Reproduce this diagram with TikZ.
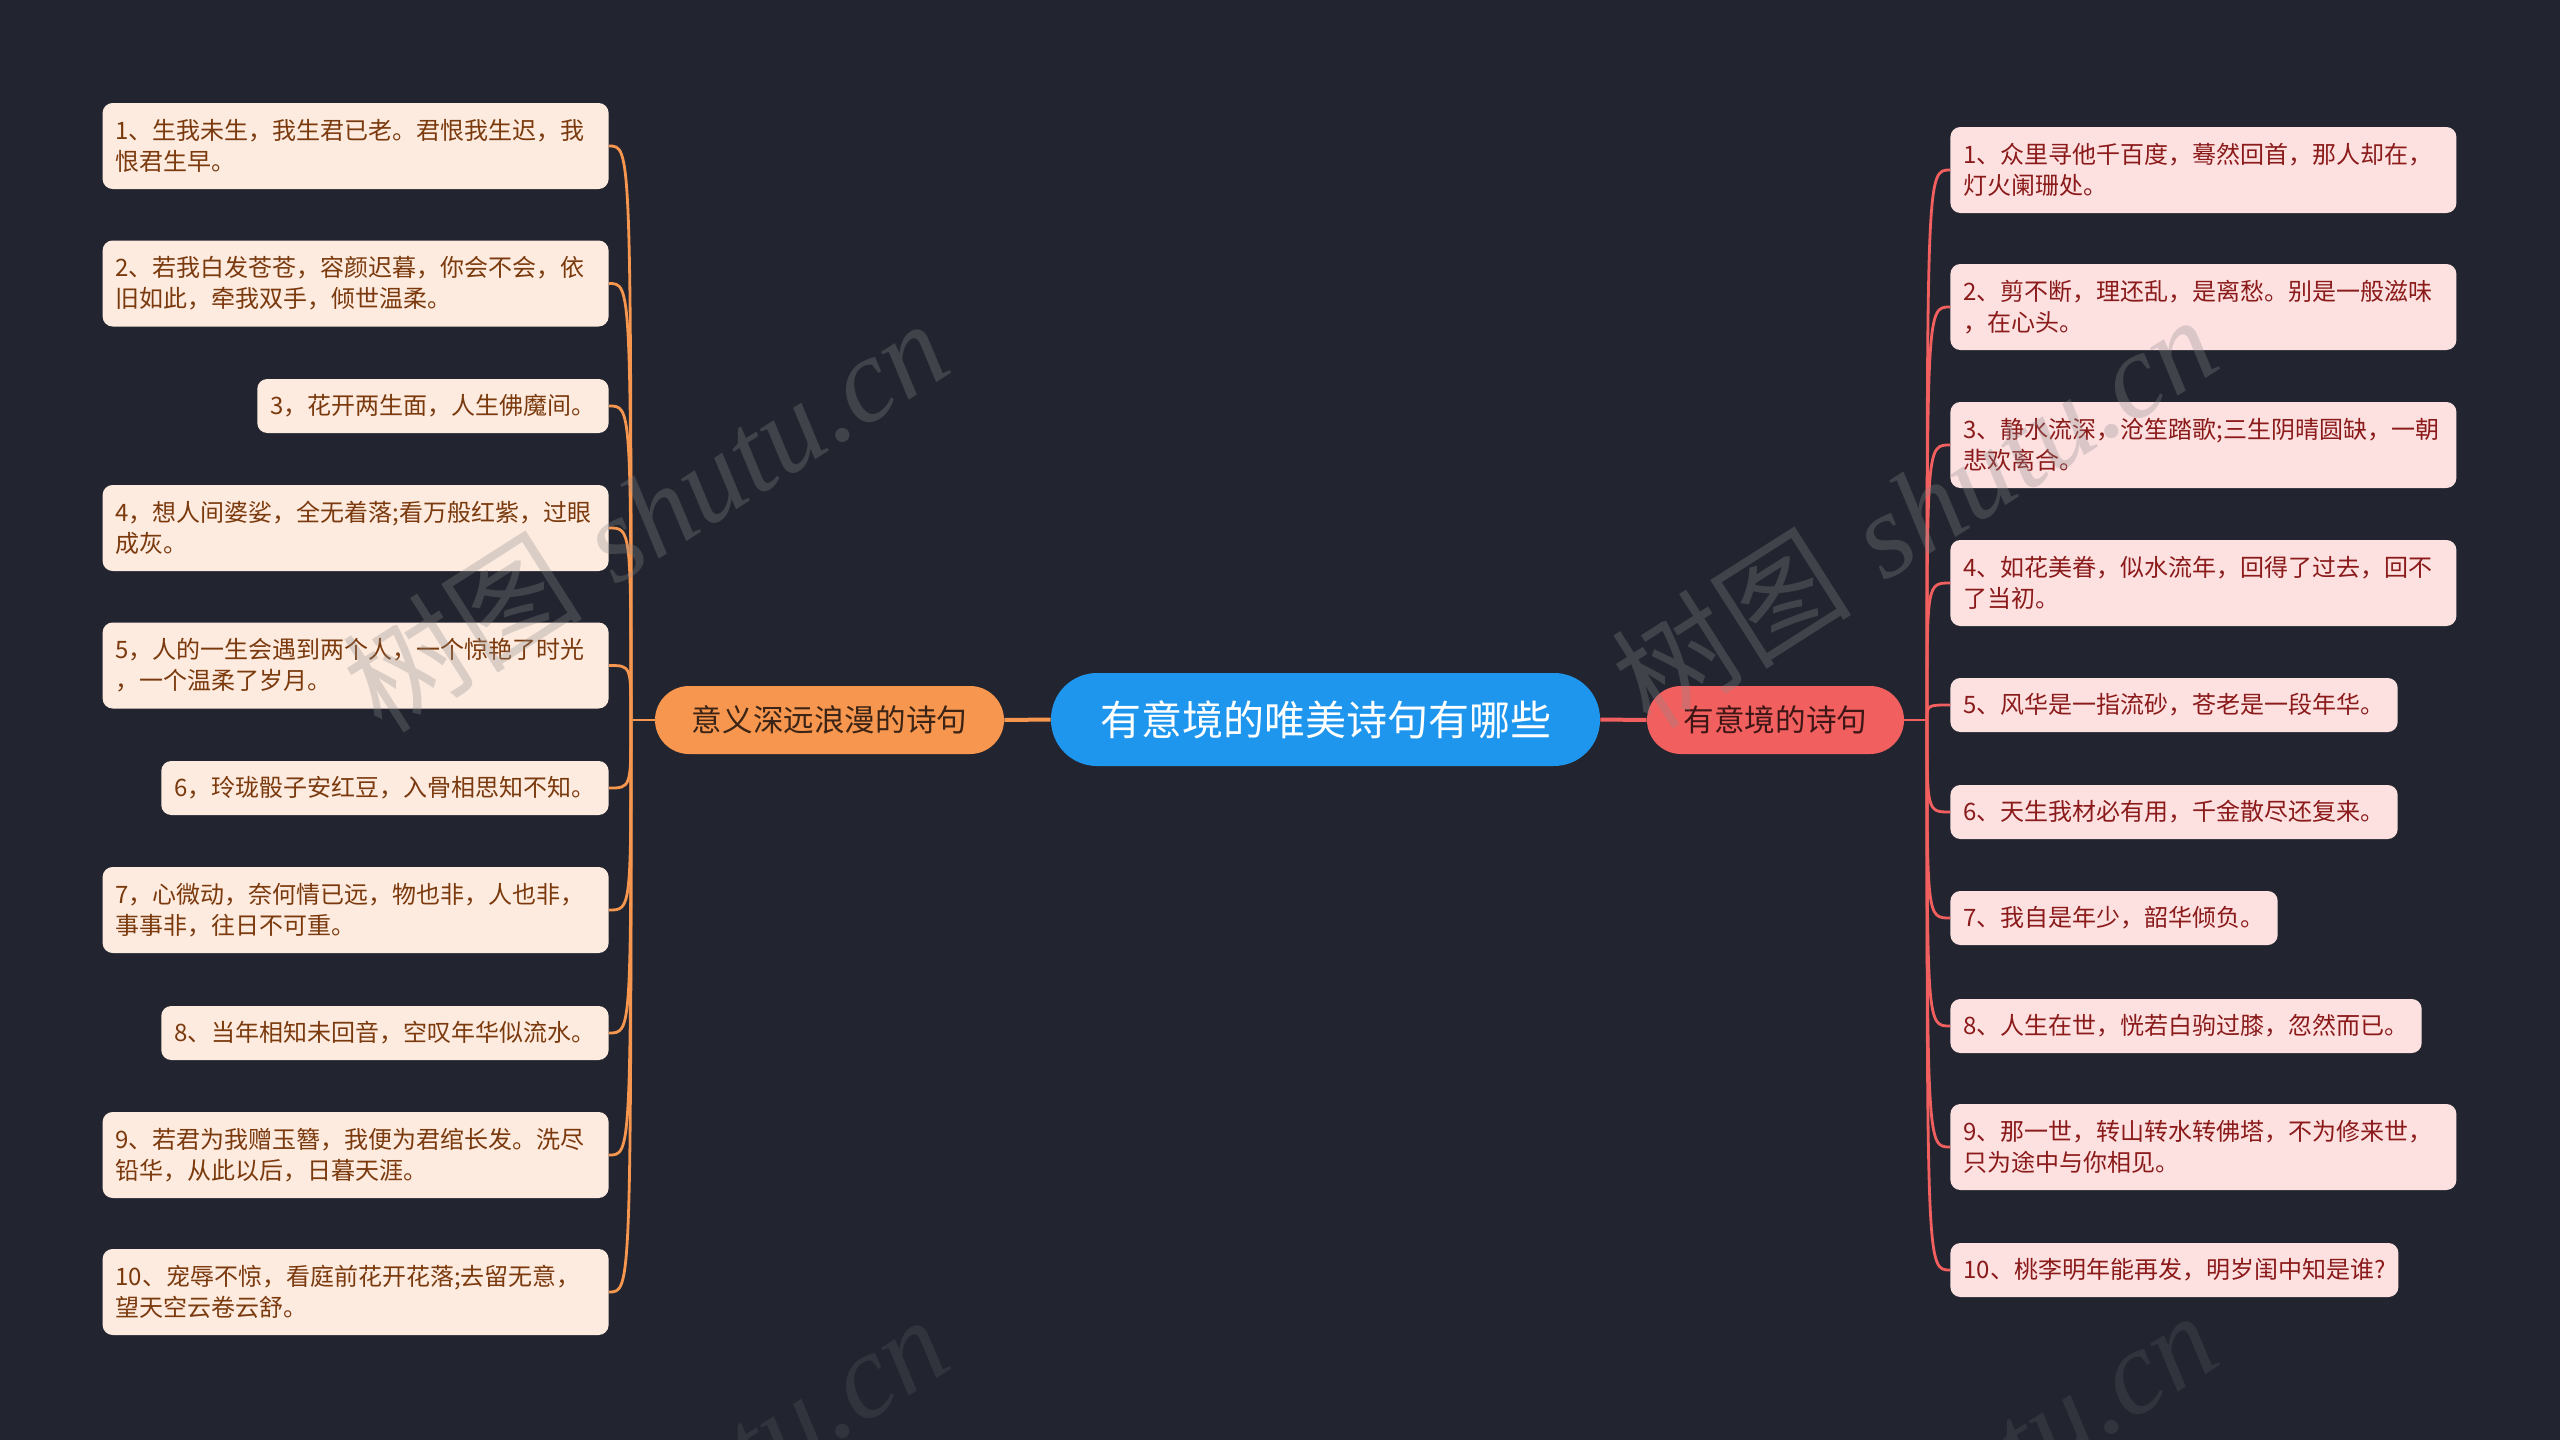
\documentclass[tikz,border=0pt]{standalone}
\usepackage{fontspec}
\newfontfamily\cjk{Noto Sans CJK SC}
\newfontfamily\wmlatin{Liberation Serif}
\definecolor{bg}{HTML}{22252F}
\definecolor{leafLfill}{HTML}{FDEBDF}
\definecolor{leafLtext}{HTML}{7B3A0E}
\definecolor{leafRfill}{HTML}{FDE1E1}
\definecolor{leafRtext}{HTML}{8B1A1A}
\definecolor{orangeB}{HTML}{F7964F}
\definecolor{redB}{HTML}{F25F5F}
\definecolor{blueC}{HTML}{1E96EE}
\definecolor{darkOtext}{HTML}{3B2415}
\definecolor{darkRtext}{HTML}{3F1616}
\definecolor{wmgray}{HTML}{8A8A8A}
\tikzset{
  leafbase/.style={rounded corners=5pt, inner xsep=6.5pt, inner ysep=0pt,
    minimum height=27pt, align=left, font=\cjk\fontsize{12pt}{15.5pt}\selectfont},
  leafL/.style={leafbase, fill=leafLfill, text=leafLtext, anchor=east},
  leafR/.style={leafbase, fill=leafRfill, text=leafRtext, anchor=west},
  twoline/.style={text width=240pt, minimum height=43pt},
  lineL/.style={draw=orangeB, line width=1.4pt},
  lineR/.style={draw=redB, line width=1.4pt},
  mainlink/.style={line width=2pt},
  branch/.style={inner sep=0pt, minimum height=34pt, rounded corners=17pt,
    font=\cjk\fontsize{15.3pt}{18pt}\selectfont},
  centernode/.style={inner sep=0pt, minimum width=274.5pt, minimum height=46.5pt,
    rounded corners=23pt, fill=blueC, text=white,
    font=\cjk\fontsize{20.5pt}{24pt}\selectfont},
  wm/.style={text=wmgray, opacity=0.3, font=\fontsize{60pt}{60pt}\selectfont, inner sep=0pt}
}
\begin{document}
\begin{tikzpicture}[x=0.5pt,y=-0.5pt]
\fill[bg] (0,0) rectangle (2560,1440);
\useasboundingbox (0,0) rectangle (2560,1440);
\clip (0,0) rectangle (2560,1440);

% center and branches
\node[centernode] (c) at (1325.5,719.5) {有意境的唯美诗句有哪些};
\node[branch, fill=orangeB, text=darkOtext, minimum width=174.5pt] (L) at (829.5,720) {意义深远浪漫的诗句};
\node[branch, fill=redB, text=darkRtext, minimum width=128.5pt] (R) at (1775.5,720) {有意境的诗句};

% left leaves
\node[leafL, twoline] (l1) at (609,146) {1、生我未生，我生君已老。君恨我生迟，我\\恨君生早。};
\node[leafL, twoline] (l2) at (609,283.5) {2、若我白发苍苍，容颜迟暮，你会不会，依\\旧如此，牵我双手，倾世温柔。};
\node[leafL] (l3) at (609,406) {3，花开两生面，人生佛魔间。};
\node[leafL, twoline] (l4) at (609,528) {4，想人间婆娑，全无着落;看万般红紫，过眼\\成灰。};
\node[leafL, twoline] (l5) at (609,665.5) {5，人的一生会遇到两个人，一个惊艳了时光\\，一个温柔了岁月。};
\node[leafL] (l6) at (609,788) {6，玲珑骰子安红豆，入骨相思知不知。};
\node[leafL, twoline] (l7) at (609,910) {7，心微动，奈何情已远，物也非，人也非，\\事事非，往日不可重。};
\node[leafL] (l8) at (609,1033) {8、当年相知未回音，空叹年华似流水。};
\node[leafL, twoline] (l9) at (609,1155) {9、若君为我赠玉簪，我便为君绾长发。洗尽\\铅华，从此以后，日暮天涯。};
\node[leafL, twoline] (l10) at (609,1292) {10、宠辱不惊，看庭前花开花落;去留无意，\\望天空云卷云舒。};

% right leaves
\node[leafR, twoline] (r1) at (1950,170) {1、众里寻他千百度，蓦然回首，那人却在，\\灯火阑珊处。};
\node[leafR, twoline] (r2) at (1950,307) {2、剪不断，理还乱，是离愁。别是一般滋味\\，在心头。};
\node[leafR, twoline] (r3) at (1950,445) {3、静水流深，沧笙踏歌;三生阴晴圆缺，一朝\\悲欢离合。};
\node[leafR, twoline] (r4) at (1950,583) {4、如花美眷，似水流年，回得了过去，回不\\了当初。};
\node[leafR] (r5) at (1950,705) {5、风华是一指流砂，苍老是一段年华。};
\node[leafR] (r6) at (1950,812) {6、天生我材必有用，千金散尽还复来。};
\node[leafR] (r7) at (1950,918) {7、我自是年少，韶华倾负。};
\node[leafR] (r8) at (1950,1026) {8、人生在世，恍若白驹过膝，忽然而已。};
\node[leafR, twoline] (r9) at (1950,1147) {9、那一世，转山转水转佛塔，不为修来世，\\只为途中与你相见。};
\node[leafR] (r10) at (1950,1270) {10、桃李明年能再发，明岁闺中知是谁?};

% connectors
\coordinate (jl) at (631,720);
\coordinate (jr) at (1927,720);
\draw[lineL, mainlink] (c.west) -- (L.east);
\draw[lineR, mainlink] (c.east) -- (R.west);
\draw[lineL] (L.west) -- (jl);
\draw[lineR] (R.east) -- (jr);
\foreach \i in {1,...,10} {
  \draw[lineL] (jl) .. controls (jl |- l\i.east) .. (l\i.east);
  \draw[lineR] (jr) .. controls (jr |- r\i.west) .. (r\i.west);
}

% watermarks
\node[wm, rotate=32.5] (wm1) at (645,514) {{\cjk 树图} {\wmlatin\itshape shutu.cn}};
\node[wm, rotate=32.5] (wm2) at (1914,510) {{\cjk 树图} {\wmlatin\itshape shutu.cn}};
\node[wm, rotate=32.5, opacity=0.15] (wm3) at (645,1510) {{\cjk 树图} {\wmlatin\itshape shutu.cn}};
\node[wm, rotate=32.5, opacity=0.15] (wm4) at (1914,1506) {{\cjk 树图} {\wmlatin\itshape shutu.cn}};
\end{tikzpicture}
\end{document}
